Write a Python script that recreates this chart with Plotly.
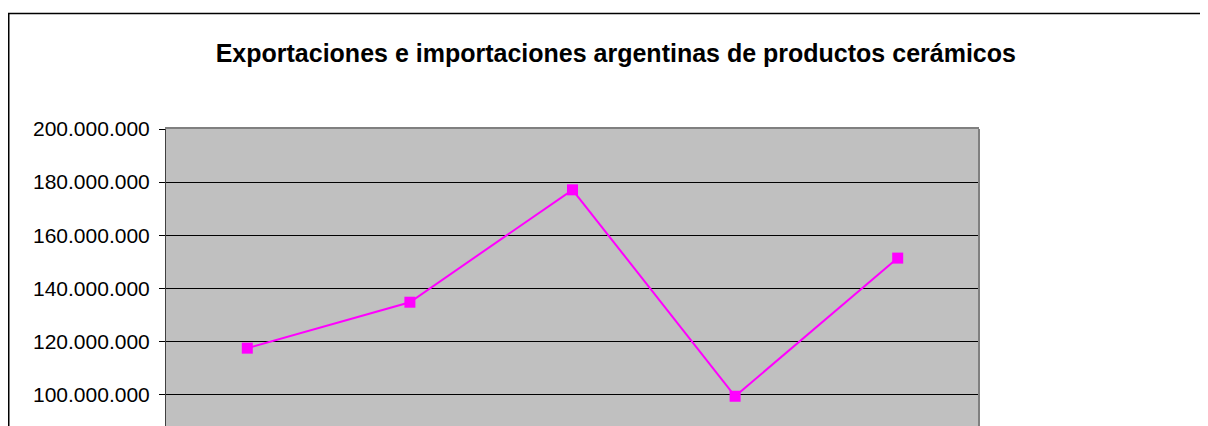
import plotly.graph_objects as go

# Data (x-axis labels are cropped out of the reference)
periods = ["P1", "P2", "P3", "P4", "P5"]
values = [117.5e6, 134.8e6, 177.1e6, 99.4e6, 151.4e6]
tick_vals = [100e6, 120e6, 140e6, 160e6, 180e6, 200e6]

title_text = "Exportaciones e importaciones argentinas de productos cerámicos"

fig = go.Figure()
fig.add_trace(go.Scatter(
    x=periods, y=values, mode="lines+markers",
    line=dict(color="#FF00FF", width=2),
    marker=dict(symbol="square", size=11, color="#FF00FF"),
    showlegend=False, hoverinfo="skip",
))

FONT = "Arial, 'Liberation Sans', sans-serif"

W, H = 1200, 418          # page body has an 8px margin
L, T = 158, 121
PW, PH = 813, H - T

fig.update_layout(
    width=W, height=H,
    margin=dict(l=L, r=W - L - PW, t=T, b=0),
    paper_bgcolor="white", plot_bgcolor="#C0C0C0",
    separators=",.",
    font=dict(family=FONT, color="black"),
    title=dict(
        text="<b>" + title_text + "</b>",
        font=dict(family=FONT, size=25, color="black"),
        x=607.8 / W, xref="container", xanchor="center",
        y=1 - 45 / H, yref="container", yanchor="middle",
    ),
    xaxis=dict(
        type="category", range=[-0.5, 4.5],
        showticklabels=False, ticks="", showgrid=False, zeroline=False,
        showline=True, linecolor="#808080", linewidth=2, mirror=True,
    ),
    yaxis=dict(
        range=[88.2e6, 200e6], tickvals=tick_vals, tickformat=",d",
        tickfont=dict(family=FONT, size=21, color="black"),
        ticks="outside", ticklen=6, tickcolor="black", tickwidth=1,
        ticklabelstandoff=5,
        showgrid=True, gridcolor="black", gridwidth=1, zeroline=False,
        showline=True, linecolor="#404040", linewidth=1, mirror=False,
    ),
    shapes=[
        # right plot-area border
        dict(type="line", xref="paper", yref="paper", x0=1, x1=1, y0=0, y1=1,
             line=dict(color="#808080", width=2)),
        # outer chart border (extends beyond the visible window)
        dict(type="rect", xref="paper", yref="paper",
             x0=(0.75 - L) / PW, x1=1.4, y0=-0.2, y1=(H - 5.5) / PH,
             line=dict(color="black", width=1.5)),
    ],
)

fig.write_html("out.html")
